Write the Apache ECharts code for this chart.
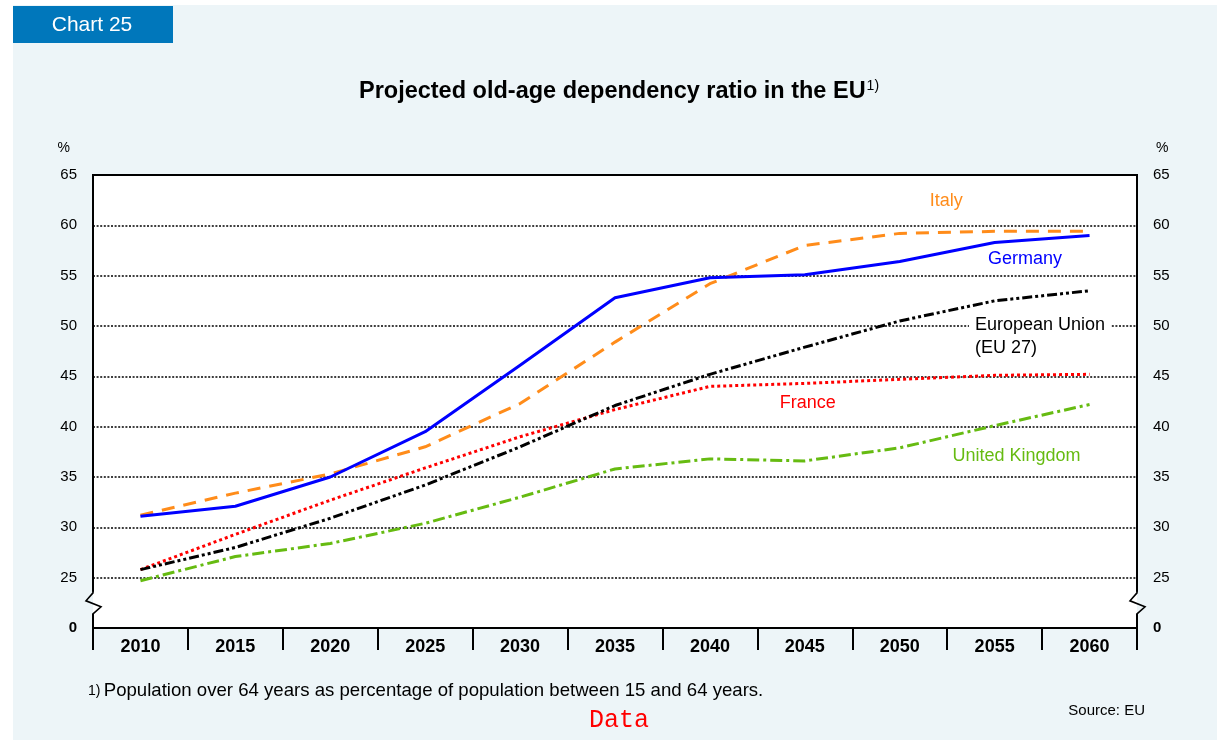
<!DOCTYPE html>
<html><head><meta charset="utf-8">
<script src="https://cdn.jsdelivr.net/npm/echarts@6/dist/echarts.min.js"></script>
<style>html,body{margin:0;padding:0;background:#fff}#c{width:1217px;height:740px}</style>
</head><body><div id="c"></div>
<script>
// ---- data ----
const years = ['2010','2015','2020','2025','2030','2035','2040','2045','2050','2055','2060'];
const germany = [31.1, 32.1, 35.0, 39.5, 46.1, 52.8, 54.8, 55.1, 56.4, 58.3, 59.0];
const italy   = [31.2, 33.4, 35.3, 38.0, 42.3, 48.4, 54.2, 58.0, 59.2, 59.4, 59.4];
const eu27    = [25.8, 28.0, 30.9, 34.2, 38.0, 42.1, 45.2, 47.9, 50.5, 52.5, 53.5];
const france  = [25.8, 29.3, 32.7, 35.9, 39.0, 41.7, 44.0, 44.3, 44.7, 45.1, 45.2];
const uk      = [24.7, 27.1, 28.4, 30.4, 33.0, 35.8, 36.8, 36.6, 37.9, 40.1, 42.2];
// axis: the bottom tick (20) stands for 0 beyond the axis break
const yTickValues = [20, 25, 30, 35, 40, 45, 50, 55, 60, 65];
const yTickLabels = ['0', '25', '30', '35', '40', '45', '50', '55', '60', '65'];
const breakValue = 22.5;

const FONT = "'Liberation Sans', Arial, Helvetica, sans-serif";
const BG = '#edf5f8';
const chart = echarts.init(document.getElementById('c'));

function yLabel(v) {
  const i = yTickValues.indexOf(v);
  if (i < 0) return '';
  return i === 0 ? '{b|' + yTickLabels[i] + '}' : yTickLabels[i];
}
function yAxisDef(pos) {
  return {
    type: 'value', position: pos, min: yTickValues[0], max: yTickValues[yTickValues.length - 1], interval: 5,
    name: '%', nameLocation: 'end', nameGap: 20,
    nameTextStyle: { color: '#000', fontFamily: FONT, fontSize: 14, align: pos === 'left' ? 'right' : 'left',
      padding: pos === 'left' ? [0, 23, 0, 0] : [0, 0, 0, 19] },
    axisLine: { show: true, lineStyle: { color: '#000', width: 2 } },
    axisTick: { show: false },
    axisLabel: { color: '#000', fontFamily: FONT, fontSize: 15, margin: 16, formatter: yLabel,
      rich: { b: { fontWeight: 'bold', fontSize: 15, fontFamily: FONT, color: '#000' } } },
    splitLine: { show: pos === 'left', showMinLine: false, showMaxLine: false,
      lineStyle: { color: '#000', width: 1.5, type: [2, 1.6] } }
  };
}
function lineSeries(name, data, color, dash, z) {
  return {
    name, type: 'line', data, symbol: 'none', yAxisIndex: 0, z: 3 + z,
    lineStyle: { color, width: 3, type: dash, cap: 'butt', join: 'round' }, animation: false
  };
}

chart.setOption({
  backgroundColor: '#fff',
  animation: false,
  grid: { left: 93, right: 80, top: 175, bottom: 112, show: true, backgroundColor: '#fff', borderColor: '#000', borderWidth: 2 },
  xAxis: {
    type: 'category', data: years, boundaryGap: true,
    axisLine: { lineStyle: { color: '#000', width: 2 } },
    axisTick: { show: true, length: 22, interval: 0, lineStyle: { color: '#000', width: 2 } },
    axisLabel: { color: '#000', fontFamily: FONT, fontSize: 18, fontWeight: 'bold', margin: 10, interval: 0 },
    splitLine: { show: false }
  },
  yAxis: [yAxisDef('left'), yAxisDef('right')],
  series: [
    lineSeries('United Kingdom', uk, '#66bb11', [12, 4, 3, 4], 0),
    lineSeries('France', france, '#ff0000', [3, 3], 1),
    lineSeries('European Union (EU 27)', eu27, '#000000', [10, 3, 3, 3, 3, 3], 2),
    lineSeries('Italy', italy, '#ff8c1a', [13, 9], 3),
    lineSeries('Germany', germany, '#0000ff', 'solid', 4)
  ]
});

function px(ci, v) {
  const a = chart.convertToPixel({ gridIndex: 0 }, [0, v]);
  const b = chart.convertToPixel({ gridIndex: 0 }, [1, v]);
  return [a[0] + ci * (b[0] - a[0]), a[1]];
}
const x0 = px(-0.5, 65)[0], x1 = px(years.length - 0.5, 65)[0];
const yb = px(0, breakValue)[1];

function zig(x, isLeft) {
  return [
    { type: 'rect', shape: { x: x - 2, y: yb - 11, width: 2, height: 22 }, style: { fill: isLeft ? BG : '#fff' }, z: 100 },
    { type: 'rect', shape: { x: x, y: yb - 11, width: 2, height: 22 }, style: { fill: isLeft ? '#fff' : BG }, z: 100 },
    { type: 'polyline', shape: { points: [[x, yb - 14], [x, yb - 10], [x - 7, yb - 2], [x + 8, yb + 4], [x, yb + 11], [x, yb + 14]] },
      style: { stroke: '#000', lineWidth: 1.6, fill: null }, z: 101 }
  ];
}
const LABEL_FONT = '18px ' + FONT;
function lab(text, ci, v, color, extraStyle) {
  const p = px(ci, v);
  return { type: 'text', x: p[0], y: p[1], z: 50,
    style: Object.assign({ text, fill: color, font: LABEL_FONT, align: 'center', verticalAlign: 'middle' }, extraStyle || {}) };
}

chart.setOption({
  graphic: [
    { type: 'rect', shape: { x: 13, y: 5, width: 1217 - 13, height: 740 - 5 }, style: { fill: BG }, z: -10, silent: true },
    { type: 'rect', shape: { x: 13, y: 6, width: 160, height: 37 }, style: { fill: '#0077bb' }, z: 10 },
    { type: 'text', x: 92, y: 25, z: 11, style: { text: 'Chart 25', fill: '#fff', font: '21px ' + FONT, align: 'center', verticalAlign: 'middle' } },
    { type: 'text', x: 619, y: 92, z: 11, style: {
      text: '{a|Projected old-age dependency ratio in the EU}{b|1)}', align: 'center', verticalAlign: 'middle',
      rich: { a: { font: 'bold 23.5px ' + FONT, fill: '#000', lineHeight: 26 }, b: { font: '14px ' + FONT, fill: '#000', verticalAlign: 'top', lineHeight: 26, padding: [0, 0, 0, 1] } } } },
    lab('Italy', 8.49, 62.4, '#ff8c1a'),
    lab('Germany', 9.32, 56.7, '#0000ff'),
    lab('European Union\n(EU 27)', 8.73, 49.0, '#000',
      { align: 'left', lineHeight: 23, backgroundColor: '#fff', padding: [0, 6, 0, 6] }),
    lab('France', 7.03, 42.3, '#ff0000'),
    lab('United Kingdom', 9.23, 37.1, '#66bb11'),
    { type: 'text', x: 88, y: 691, z: 11, style: {
      text: '{s|1)} {a|Population over 64 years as percentage of population between 15 and 64 years.}', align: 'left', verticalAlign: 'middle',
      rich: { s: { font: '14px ' + FONT, fill: '#000' }, a: { font: '18.6px ' + FONT, fill: '#000' } } } },
    { type: 'text', x: 1145, y: 711, z: 11, style: { text: 'Source: EU', fill: '#000', font: '15px ' + FONT, align: 'right', verticalAlign: 'middle' } },
    { type: 'text', x: 619, y: 720, z: 11, style: { text: 'Data', fill: '#ff0000', font: '25px "Liberation Mono", "Courier New", monospace', align: 'center', verticalAlign: 'middle' } }
  ].concat(zig(x0, true)).concat(zig(x1, false))
});
</script></body></html>
